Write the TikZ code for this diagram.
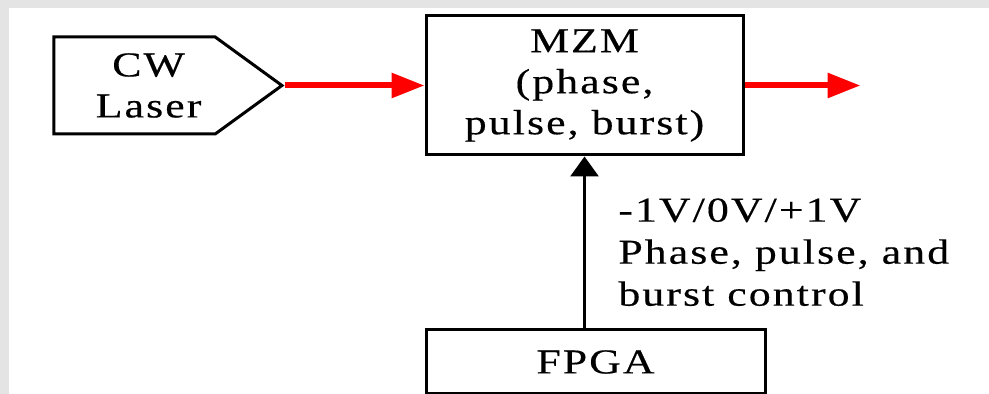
\documentclass[tikz,border=0pt]{standalone}
\usepackage{fontspec}
\setmainfont[FakeStretch=1.25, LetterSpace=6, FakeBold=0.4]{Liberation Serif}
\usepackage{xcolor}
\usetikzlibrary{arrows.meta, positioning, shapes.symbols}

\definecolor{bggray}{HTML}{E4E4E4}
\definecolor{beamred}{HTML}{FF0000}

\begin{document}
\begin{tikzpicture}[
  x=0.5pt, y=-0.5pt,
  box/.style={draw, line width=1.5pt, align=center, inner sep=0pt,
              font=\fontsize{17.5}{20.5}\selectfont},
  src/.style={box, signal, signal to=east, signal pointer angle=72},
  beam/.style={-{Triangle[length=16.5pt, width=12pt]}, line width=3pt, beamred},
  ctl/.style={-{Triangle[length=10pt, width=14pt]}, line width=1.5pt},
  lbl/.style={align=left, inner sep=0pt, font=\fontsize{17.5}{21}\selectfont}
]
  \useasboundingbox (0,0) rectangle (989,394);
  \fill[bggray] (0,0) rectangle (989,394);
  \fill[white] (9,8) rectangle (989,394);

  \node[box, minimum width=158.5pt, minimum height=69.5pt] (mzm) at (584.5,85.5) {MZM\\(phase,\\pulse, burst)};
  \node[src, minimum width=114pt, minimum height=48.5pt, left=70pt of mzm.west] (laser) {\hspace*{14pt}CW\\\hspace*{14pt}Laser};
  \node[box, minimum width=169.5pt, minimum height=32pt, below=86pt of mzm.south west, anchor=north west] (fpga) {FPGA};
  \coordinate[right=58pt of mzm.east] (out);
  \node[lbl, anchor=north west] (ctrl) at (618,198) {-1V/0V/+1V\\Phase, pulse, and\\burst control};

  \draw[beam] (laser.east) -- (mzm.west);
  \draw[beam] (mzm.east) -- (out);
  \draw[ctl] (mzm.south |- fpga.north) -- (mzm.south);
\end{tikzpicture}
\end{document}
